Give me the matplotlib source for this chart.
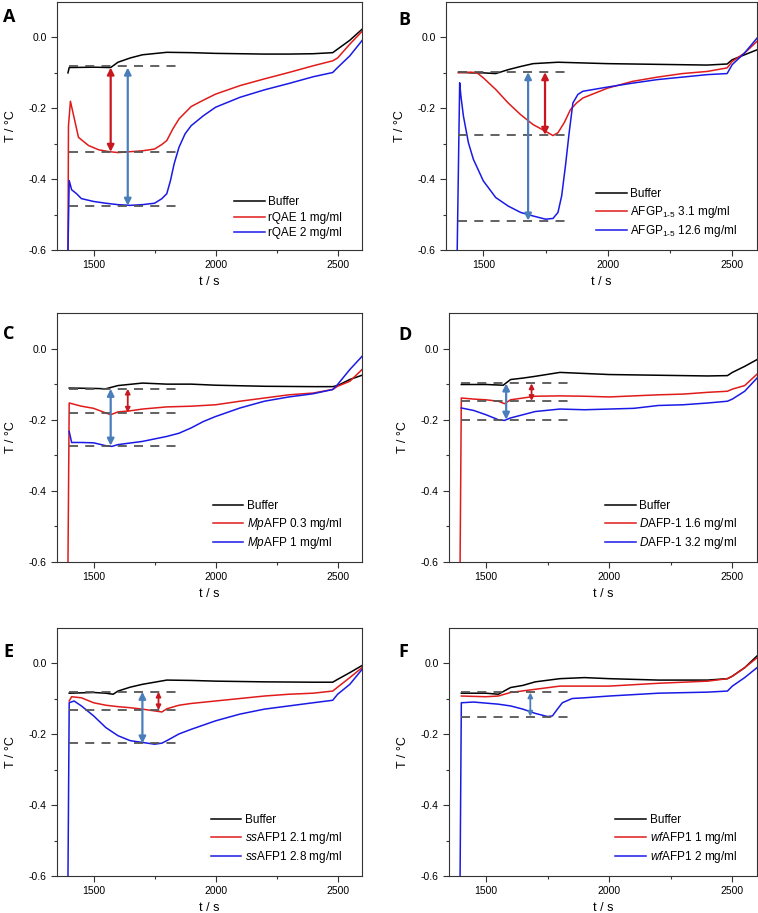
import matplotlib
matplotlib.use("Agg")
import matplotlib.pyplot as plt

plt.rcParams['font.family'] = ['Liberation Sans', 'DejaVu Sans']
plt.rcParams['mathtext.fontset'] = 'custom'
plt.rcParams['mathtext.rm'] = 'Liberation Sans'
plt.rcParams['mathtext.it'] = 'Liberation Sans:italic'

# ---- panel A : rQAE ----
A_buf_t = [1395, 1400, 1500, 1570, 1600, 1650, 1700, 1800, 1900, 2000, 2100, 2200, 2300, 2400, 2480, 2500, 2550, 2600]
A_buf = [-0.10, -0.085, -0.084, -0.085, -0.07, -0.058, -0.049, -0.042, -0.043, -0.045, -0.046, -0.047, -0.047, -0.046, -0.043, -0.033, -0.008, 0.023]
A_red_t = [1395, 1397, 1405, 1438, 1479, 1520, 1560, 1600, 1700, 1750, 1780, 1800, 1825, 1850, 1900, 1950, 2000, 2100, 2200, 2300, 2400, 2480, 2500, 2550, 2600]
A_red = [-0.60, -0.25, -0.18, -0.282, -0.305, -0.317, -0.322, -0.325, -0.320, -0.315, -0.302, -0.291, -0.258, -0.23, -0.195, -0.177, -0.16, -0.136, -0.117, -0.099, -0.08, -0.066, -0.058, -0.019, 0.017]
A_blue_t = [1395, 1400, 1410, 1430, 1450, 1500, 1550, 1600, 1650, 1700, 1750, 1780, 1800, 1815, 1830, 1850, 1875, 1900, 1950, 2000, 2100, 2200, 2300, 2400, 2480, 2500, 2550, 2600]
A_blue = [-0.60, -0.404, -0.43, -0.441, -0.455, -0.463, -0.468, -0.472, -0.474, -0.472, -0.468, -0.455, -0.441, -0.404, -0.357, -0.31, -0.272, -0.249, -0.221, -0.197, -0.169, -0.148, -0.13, -0.111, -0.099, -0.085, -0.052, -0.009]
A_labels = ['Buffer', 'rQAE 1 mg/ml', 'rQAE 2 mg/ml']
A_levels = [-0.082, -0.323, -0.475]
A_arrows = [(1570, -0.085, -0.323, 'red'), (1640, -0.085, -0.475, 'blue')]

# ---- panel B : AFGP1-5 ----
B_buf_t = [1400, 1450, 1500, 1550, 1600, 1650, 1700, 1800, 1900, 2000, 2200, 2400, 2480, 2500, 2550, 2600]
B_buf = [-0.098, -0.10, -0.10, -0.102, -0.091, -0.082, -0.074, -0.07, -0.072, -0.074, -0.076, -0.078, -0.075, -0.063, -0.049, -0.035]
B_red_t = [1400, 1450, 1475, 1500, 1550, 1600, 1650, 1700, 1750, 1780, 1800, 1825, 1850, 1875, 1900, 2000, 2100, 2200, 2300, 2400, 2480, 2500, 2550, 2600]
B_red = [-0.10, -0.098, -0.10, -0.114, -0.147, -0.185, -0.218, -0.246, -0.265, -0.277, -0.269, -0.241, -0.204, -0.185, -0.171, -0.143, -0.124, -0.112, -0.102, -0.096, -0.086, -0.068, -0.044, -0.011]
B_blue_t = [1395, 1405, 1410, 1420, 1440, 1460, 1500, 1550, 1600, 1650, 1700, 1750, 1780, 1800, 1815, 1830, 1845, 1860, 1880, 1900, 2000, 2100, 2200, 2300, 2400, 2480, 2500, 2550, 2600]
B_blue = [-0.60, -0.128, -0.166, -0.222, -0.297, -0.344, -0.405, -0.452, -0.476, -0.494, -0.504, -0.513, -0.511, -0.494, -0.447, -0.363, -0.269, -0.185, -0.161, -0.152, -0.14, -0.129, -0.119, -0.112, -0.105, -0.102, -0.077, -0.044, -0.002]
B_labels = ['Buffer', 'AFGP$_{\\mathregular{1\u20105}}$ 3.1 mg/ml', 'AFGP$_{\\mathregular{1\u20105}}$ 12.6 mg/ml']
B_levels = [-0.098, -0.275, -0.517]
B_arrows = [(1680, -0.098, -0.517, 'blue'), (1748, -0.098, -0.275, 'red')]

# ---- panel C : MpAFP ----
C_buf_t = [1400, 1500, 1550, 1600, 1700, 1800, 1900, 2000, 2200, 2400, 2480, 2500, 2550, 2600]
C_buf = [-0.111, -0.112, -0.113, -0.104, -0.097, -0.10, -0.10, -0.103, -0.106, -0.107, -0.107, -0.104, -0.087, -0.075]
C_red_t = [1395, 1400, 1450, 1500, 1550, 1570, 1600, 1650, 1700, 1800, 1900, 2000, 2100, 2200, 2300, 2400, 2480, 2500, 2550, 2600]
C_red = [-0.60, -0.153, -0.162, -0.168, -0.181, -0.186, -0.178, -0.175, -0.17, -0.164, -0.162, -0.158, -0.148, -0.139, -0.13, -0.125, -0.115, -0.106, -0.092, -0.059]
C_blue_t = [1400, 1410, 1450, 1500, 1550, 1575, 1600, 1700, 1800, 1850, 1900, 1950, 2000, 2100, 2200, 2300, 2400, 2480, 2500, 2550, 2600]
C_blue = [-0.233, -0.264, -0.264, -0.265, -0.273, -0.275, -0.27, -0.261, -0.247, -0.238, -0.223, -0.205, -0.191, -0.167, -0.148, -0.136, -0.127, -0.115, -0.101, -0.059, -0.022]
C_labels = ['Buffer', '$\\mathit{Mp}$AFP 0.3 mg/ml', '$\\mathit{Mp}$AFP 1 mg/ml']
C_levels = [-0.113, -0.18, -0.273]
C_arrows = [(1570, -0.113, -0.273, 'blue'), (1640, -0.113, -0.18, 'red')]

# ---- panel D : DAFP-1 ----
D_buf_t = [1400, 1500, 1570, 1600, 1650, 1700, 1800, 1900, 2000, 2200, 2400, 2480, 2500, 2550, 2600]
D_buf = [-0.101, -0.101, -0.103, -0.087, -0.083, -0.078, -0.067, -0.07, -0.073, -0.075, -0.077, -0.076, -0.067, -0.05, -0.031]
D_red_t = [1395, 1400, 1450, 1500, 1550, 1575, 1600, 1700, 1800, 1900, 2000, 2100, 2200, 2300, 2400, 2480, 2500, 2550, 2600]
D_red = [-0.60, -0.139, -0.142, -0.144, -0.148, -0.155, -0.144, -0.134, -0.133, -0.134, -0.136, -0.133, -0.13, -0.128, -0.123, -0.12, -0.114, -0.104, -0.072]
D_blue_t = [1400, 1450, 1500, 1550, 1575, 1600, 1650, 1700, 1800, 1900, 2000, 2100, 2200, 2300, 2400, 2480, 2500, 2550, 2600]
D_blue = [-0.167, -0.174, -0.186, -0.20, -0.202, -0.195, -0.186, -0.177, -0.17, -0.172, -0.17, -0.168, -0.16, -0.158, -0.153, -0.148, -0.142, -0.12, -0.083]
D_labels = ['Buffer', '$\\mathit{D}$AFP-1 1.6 mg/ml', '$\\mathit{D}$AFP-1 3.2 mg/ml']
D_levels = [-0.098, -0.147, -0.20]
D_arrows = [(1582, -0.098, -0.20, 'blue'), (1685, -0.098, -0.147, 'red')]

# ---- panel E : ssAFP1 ----
E_buf_t = [1400, 1450, 1500, 1550, 1580, 1600, 1650, 1700, 1800, 1900, 2000, 2200, 2400, 2480, 2500, 2550, 2600]
E_buf = [-0.084, -0.083, -0.082, -0.084, -0.087, -0.078, -0.067, -0.059, -0.047, -0.048, -0.05, -0.052, -0.053, -0.053, -0.045, -0.026, -0.006]
E_red_t = [1400, 1410, 1450, 1500, 1550, 1600, 1650, 1700, 1750, 1780, 1800, 1850, 1900, 2000, 2100, 2200, 2300, 2400, 2480, 2500, 2550, 2600]
E_red = [-0.106, -0.094, -0.097, -0.111, -0.118, -0.122, -0.125, -0.129, -0.134, -0.137, -0.128, -0.118, -0.113, -0.106, -0.099, -0.092, -0.087, -0.084, -0.078, -0.067, -0.04, -0.012]
E_blue_t = [1395, 1400, 1420, 1450, 1500, 1550, 1600, 1650, 1700, 1750, 1780, 1800, 1850, 1900, 2000, 2100, 2200, 2300, 2400, 2480, 2500, 2550, 2600]
E_blue = [-0.60, -0.111, -0.106, -0.12, -0.148, -0.181, -0.204, -0.218, -0.223, -0.228, -0.225, -0.218, -0.199, -0.186, -0.162, -0.143, -0.129, -0.12, -0.111, -0.104, -0.087, -0.059, -0.017]
E_labels = ['Buffer', '$\\mathit{ss}$AFP1 2.1 mg/ml', '$\\mathit{ss}$AFP1 2.8 mg/ml']
E_levels = [-0.08, -0.132, -0.226]
E_arrows = [(1700, -0.08, -0.226, 'blue'), (1766, -0.08, -0.132, 'red')]

# ---- panel F : wfAFP1 ----
F_buf_t = [1400, 1500, 1550, 1600, 1650, 1700, 1800, 1900, 2000, 2200, 2400, 2480, 2500, 2550, 2600]
F_buf = [-0.084, -0.084, -0.087, -0.068, -0.062, -0.052, -0.043, -0.04, -0.043, -0.047, -0.047, -0.043, -0.036, -0.012, 0.021]
F_red_t = [1400, 1500, 1550, 1600, 1700, 1800, 2000, 2200, 2400, 2480, 2500, 2550, 2600]
F_red = [-0.092, -0.094, -0.092, -0.082, -0.073, -0.064, -0.064, -0.056, -0.05, -0.043, -0.036, -0.012, 0.016]
F_blue_t = [1395, 1400, 1450, 1500, 1550, 1600, 1650, 1700, 1750, 1770, 1790, 1810, 1850, 1900, 2000, 2200, 2400, 2480, 2500, 2550, 2600]
F_blue = [-0.60, -0.111, -0.109, -0.112, -0.115, -0.12, -0.129, -0.141, -0.15, -0.148, -0.129, -0.111, -0.099, -0.097, -0.092, -0.084, -0.081, -0.078, -0.064, -0.04, -0.012]
F_labels = ['Buffer', '$\\mathit{wf}$AFP1 1 mg/ml', '$\\mathit{wf}$AFP1 2 mg/ml']
F_levels = [-0.082, -0.15]
F_arrows = [(1680, -0.082, -0.15, 'blue')]

LINE_COLORS = ['black', '#e01b1b', '#1a1ae6']
ARROW_COLORS = {'red': '#c8171e', 'blue': '#4a7ebb'}

W, H = 758, 913
# axes boxes in pixels: left, top, right, bottom
boxes = {
    'A': (57, 2, 362, 250), 'B': (446, 2, 757, 250),
    'C': (57, 313, 362, 562), 'D': (449, 313, 757, 562),
    'E': (57, 628, 362, 876), 'F': (449, 628, 757, 876),
}
letter_pos = {'A': (3, 8), 'B': (398, 11), 'C': (3, 325), 'D': (398, 326),
              'E': (3, 643), 'F': (398, 643)}

panels = {
    'A': ([(A_buf_t, A_buf), (A_red_t, A_red), (A_blue_t, A_blue)], A_labels, A_levels, A_arrows),
    'B': ([(B_buf_t, B_buf), (B_red_t, B_red), (B_blue_t, B_blue)], B_labels, B_levels, B_arrows),
    'C': ([(C_buf_t, C_buf), (C_red_t, C_red), (C_blue_t, C_blue)], C_labels, C_levels, C_arrows),
    'D': ([(D_buf_t, D_buf), (D_red_t, D_red), (D_blue_t, D_blue)], D_labels, D_levels, D_arrows),
    'E': ([(E_buf_t, E_buf), (E_red_t, E_red), (E_blue_t, E_blue)], E_labels, E_levels, E_arrows),
    'F': ([(F_buf_t, F_buf), (F_red_t, F_red), (F_blue_t, F_blue)], F_labels, F_levels, F_arrows),
}


def draw_panel(fig, key):
    l, t, r, b = boxes[key]
    ax = fig.add_axes([l / W, 1 - b / H, (r - l) / W, (b - t) / H])
    series, labels, levels, arrows = panels[key]

    for lev in levels:
        ax.plot([1400, 1850], [lev, lev], color='#555555', lw=1.3,
                dashes=(5, 4), zorder=4)
    for (tt, yy), lab, c in zip(series, labels, LINE_COLORS):
        ax.plot(tt, yy, color=c, lw=1.1, label=lab, zorder=3)
    for x, y0, y1, c in arrows:
        # short arrows get small heads, as in the original
        short = abs(y1 - y0) < 0.08
        ax.annotate('', xy=(x, y1), xytext=(x, y0),
                    arrowprops=dict(arrowstyle='<|-|>', color=ARROW_COLORS[c],
                                    lw=1.3 if short else 1.6,
                                    mutation_scale=7 if short else 10,
                                    shrinkA=0, shrinkB=0), zorder=5)

    ax.set_xlim(1350, 2600)
    ax.set_ylim(-0.6, 0.1)
    ax.set_xticks([1500, 2000, 2500])
    ax.set_xticks([1750, 2250], minor=True)
    ax.set_yticks([0.0, -0.2, -0.4, -0.6])
    ax.set_yticks([-0.1, -0.3, -0.5], minor=True)
    ax.set_yticklabels(['0.0', '-0.2', '-0.4', '-0.6'])
    ax.tick_params(which='both', direction='out', top=False, right=False,
                   labelsize=7.5, color='#333333')
    ax.tick_params(which='major', length=4, width=0.8)
    ax.tick_params(which='minor', length=2.5, width=0.8)
    for s in ax.spines.values():
        s.set_linewidth(0.8)
        s.set_color('#333333')
    ax.set_xlabel('t / s', fontsize=9)
    ax.set_ylabel('T / °C', fontsize=9, labelpad=8)

    ax.legend(loc='lower right', bbox_to_anchor=(0.97, 0.0), frameon=False,
              fontsize=8.5, handlelength=2.6, labelspacing=0.3,
              handletextpad=0.3)

    lx, ly = letter_pos[key]
    fig.text(lx / W, 1 - ly / H, key, fontsize=13, fontweight='bold',
             family=['Open Sans', 'DejaVu Sans'], ha='left', va='top')
    return ax


def main():
    fig = plt.figure(figsize=(W / 100, H / 100), dpi=100)
    for key in ['A', 'B', 'C', 'D', 'E', 'F']:
        draw_panel(fig, key)
    fig.savefig('out.png', dpi=100)


if __name__ == '__main__':
    main()
